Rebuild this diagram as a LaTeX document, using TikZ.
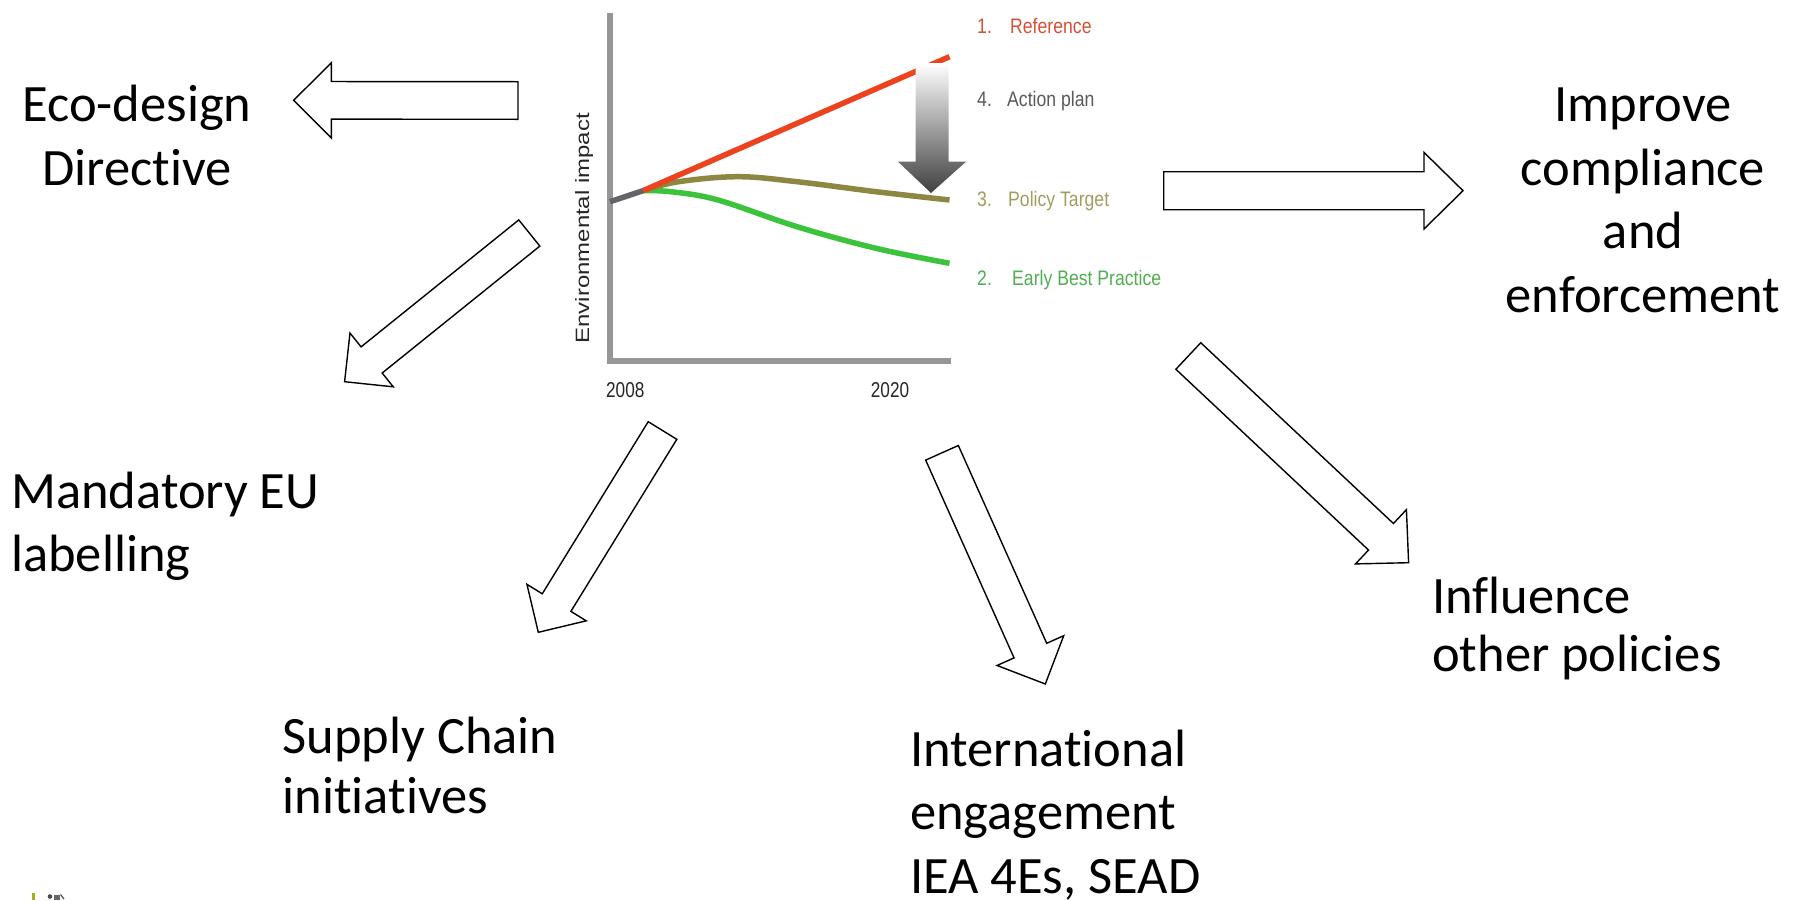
\documentclass[tikz,border=0pt]{standalone}
\usepackage{fontspec}
\setmainfont[Ligatures=NoCommon]{Carlito}
\newfontfamily\chartfont[FakeStretch=0.84]{Liberation Sans}
\newfontfamily\yearfont[FakeStretch=0.8]{Liberation Sans}
\newfontfamily\chartrotfont[FakeStretch=1.24]{Liberation Sans}
\usetikzlibrary{calc}
\definecolor{refline}{RGB}{236,66,30}
\definecolor{reftext}{RGB}{214,80,55}
\definecolor{acttext}{RGB}{90,90,90}
\definecolor{polline}{RGB}{140,135,65}
\definecolor{poltext}{RGB}{160,158,95}
\definecolor{ebpline}{RGB}{60,195,60}
\definecolor{ebptext}{RGB}{80,175,80}
\definecolor{axisgray}{RGB}{150,150,150}
\definecolor{startgray}{RGB}{100,100,105}
\definecolor{logoolive}{RGB}{170,170,40}
\tikzset{
  blockarrow/.style={draw=black, line width=1.4pt, fill=white, line join=miter},
  maintext/.style={inner sep=0pt, text=black},
  chartlabel/.style={inner sep=0pt, anchor=base west, font=\chartfont\fontsize{21}{21}\selectfont},
  yearlabel/.style={inner sep=0pt, anchor=base, text=black!85, font=\yearfont\fontsize{21.5}{21.5}\selectfont},
  curve/.style={line width=5.5pt, line cap=butt},
  axisline/.style={draw=axisgray, line width=5.5pt, line join=miter},
}
\newcommand\blockarrow[6]{%
  \coordinate (#1-t) at (#2);
  \coordinate (#1-p) at (#3);
  \coordinate (#1-h) at ($(#1-p)!#6!(#1-t)$);
  \draw[blockarrow] ($(#1-t)!#4!90:(#1-p)$) -- ($(#1-h)!#4!90:(#1-p)$) -- ($(#1-h)!#5!90:(#1-p)$) -- (#1-p) -- ($(#1-h)!#5!-90:(#1-p)$) -- ($(#1-h)!#4!-90:(#1-p)$) -- ($(#1-t)!#4!-90:(#1-p)$) -- cycle;
}
\newcommand\textlines[2]{\begin{tabular}[t]{@{}#1@{}}#2\end{tabular}}
\begin{document}
\begin{tikzpicture}[x=1pt,y=-1pt]
\useasboundingbox (0,0) rectangle (1802,900);
\fill[white] (0,0) rectangle (1802,900);

% ---- chart ----
\draw[axisline] (610,13) -- (610,361) -- (950.7,361);
\draw[curve, ebpline] plot[smooth, tension=0.6] coordinates {(643,190.7) (670.7,191.7) (718,200) (797,226.7) (876,248.3) (949.5,263.3)};
\draw[curve, polline] plot[smooth, tension=0.6] coordinates {(643,190.7) (678.6,181.7) (738,176.7) (797,181.7) (876,191.7) (949.5,200)};
\draw[curve, refline] (643,190.7) -- (949.5,56.7);
\draw[curve, startgray] (610,201.7) -- (643,190.7);

\shade[top color=white, bottom color=black!75]
  (915.5,63) -- (948.5,63) -- (948.5,161.7) -- (966,161.7) -- (931,193) -- (898,161.7) -- (915.5,161.7) -- cycle;

\node[chartlabel, text=reftext] (l1) at (977,33.3) {\makebox[33pt][l]{1.}Reference};
\node[chartlabel, text=acttext] (l4) at (977,106.7) {\makebox[30pt][l]{4.}Action plan};
\node[chartlabel, text=poltext] (l3) at (977,206.7) {\makebox[31pt][l]{3.}Policy Target};
\node[chartlabel, text=ebptext] (l2) at (977,285) {\makebox[35pt][l]{2.}Early Best Practice};
\node[yearlabel] (y1) at (625.3,397.3) {2008};
\node[yearlabel] (y2) at (890,397.3) {2020};
\node[inner sep=0pt, anchor=base, rotate=90, text=black!85, font=\chartrotfont\fontsize{19.3}{19.3}\selectfont] (ylab) at (589,228.3) {Environmental impact};

% ---- block arrows ----
\blockarrow{a1}{518,100.5}{293.6,100.3}{18.8pt}{37.6pt}{37.8pt}
\blockarrow{a2}{529.3,233}{344.6,381.7}{16.8pt}{34.5pt}{34.7pt}
\blockarrow{a3}{1163.7,190.7}{1463,190.7}{19pt}{38.3pt}{39pt}
\blockarrow{a4}{1188.3,356}{1408.6,562.7}{18.2pt}{37.2pt}{37.9pt}
\blockarrow{a5}{662.5,430.5}{538.3,632.3}{16.8pt}{34.8pt}{34.9pt}
\blockarrow{a6}{942,452.8}{1045.3,684}{17.9pt}{36.5pt}{36.6pt}

% ---- texts ----
\node[maintext, anchor=base, font=\fontsize{52.5}{63.3}\selectfont] (eco) at (137,121.7) {\textlines{c}{Eco-design\\Directive}};
\node[maintext, anchor=base, font=\fontsize{52.5}{63.5}\selectfont] (improve) at (1643,121.7) {\textlines{c}{Improve\\compliance\\and\\enforcement}};
\node[maintext, anchor=base west, font=\fontsize{52.5}{63.4}\selectfont] (mand) at (11,508.3) {\textlines{l}{Mandatory EU\\labelling}};
\node[maintext, anchor=base west, font=\fontsize{52.5}{60.5}\selectfont] (supply) at (282.4,753.3) {\textlines{l}{Supply Chain\\initiatives}};
\node[maintext, anchor=base west, font=\fontsize{52.5}{63.2}\selectfont] (intl) at (910,766.7) {\textlines{l}{International\\engagement\\IEA 4Es, SEAD}};
\node[maintext, anchor=base west, font=\fontsize{52.5}{58.5}\selectfont] (infl) at (1432,613.3) {\textlines{l}{Influence\\other policies}};

% ---- logo fragment ----
\fill[logoolive] (32.3,893) rectangle (35,900);
\fill[black!70] (50,896.5) circle (2.3);
\fill[black!60] (54,894.5) rectangle (59.5,900);
\draw[black!70, line width=1.2pt] (60.5,894.5) -- (64,899);
\end{tikzpicture}
\end{document}
